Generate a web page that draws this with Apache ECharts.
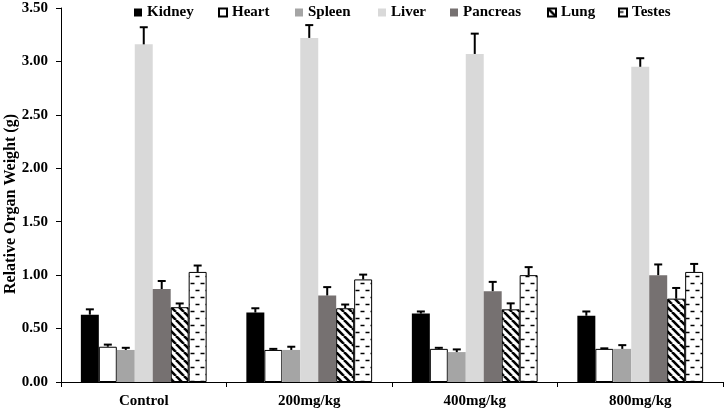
<!DOCTYPE html>
<html>
<head>
<meta charset="utf-8">
<title>Relative Organ Weight</title>
<script src="https://cdn.jsdelivr.net/npm/echarts@6/dist/echarts.min.js"></script>
<style>
    html, body { margin: 0; padding: 0; background: #fff; }
    #main { width: 725px; height: 410px; }
</style>
</head>
<body>
<div id="main"></div>
<script>
// data
const categories = ['Control', '200mg/kg', '400mg/kg', '800mg/kg'];
const organNames = ['Kidney', 'Heart', 'Spleen', 'Liver', 'Pancreas', 'Lung', 'Testes'];
const yTitle = 'Relative Organ Weight (g)';

const kidney = [0.63, 0.65, 0.64, 0.62];
const heart = [0.33, 0.30, 0.31, 0.31];
const spleen = [0.30, 0.30, 0.28, 0.31];
const liver = [3.16, 3.22, 3.07, 2.95];
const pancreas = [0.87, 0.81, 0.85, 1.00];
const lung = [0.70, 0.69, 0.68, 0.78];
const testes = [1.03, 0.96, 1.00, 1.03];

// standard error (upper bar only)
const kidneyErr = [0.05, 0.04, 0.02, 0.04];
const heartErr = [0.02, 0.01, 0.01, 0.005];
const spleenErr = [0.02, 0.03, 0.025, 0.035];
const liverErr = [0.16, 0.12, 0.19, 0.08];
const pancreasErr = [0.075, 0.078, 0.087, 0.10];
const lungErr = [0.035, 0.035, 0.056, 0.10];
const testesErr = [0.06, 0.045, 0.075, 0.075];

const yTicks = [0, 0.5, 1, 1.5, 2, 2.5, 3, 3.5];

const FONT = 'Liberation Serif';
const CAT_GAP = 0.24;

// diagonal stripes for Lung
function stripePattern() {
    const c = document.createElement('canvas');
    c.width = 8; c.height = 8;
    const ctx = c.getContext('2d');
    ctx.fillStyle = '#fff';
    ctx.fillRect(0, 0, 8, 8);
    ctx.strokeStyle = '#000';
    ctx.lineWidth = 2.6;
    [-8, 0, 8].forEach(function (o) {
        ctx.beginPath();
        ctx.moveTo(o, 0);
        ctx.lineTo(o + 8, 8);
        ctx.stroke();
    });
    return c;
}

// short dashes for Testes
function dashPattern() {
    const c = document.createElement('canvas');
    c.width = 10; c.height = 14;
    const ctx = c.getContext('2d');
    ctx.fillStyle = '#fff';
    ctx.fillRect(0, 0, 10, 14);
    ctx.strokeStyle = '#000';
    ctx.lineWidth = 1.4;
    ctx.beginPath();
    ctx.moveTo(0.5, 3.5); ctx.lineTo(4.5, 3.5);
    ctx.moveTo(5.5, 10.5); ctx.lineTo(9.5, 10.5);
    ctx.stroke();
    return c;
}

const values = [kidney, heart, spleen, liver, pancreas, lung, testes];
const errors = [kidneyErr, heartErr, spleenErr, liverErr, pancreasErr, lungErr, testesErr];
const styles = [
    {color: '#000000'},
    {color: '#ffffff', borderColor: '#000', borderWidth: 1},
    {color: '#a5a5a5'},
    {color: '#d9d9d9'},
    {color: '#767171'},
    {color: {image: stripePattern(), repeat: 'repeat'}, borderColor: '#000', borderWidth: 1},
    {color: {image: dashPattern(), repeat: 'repeat'}, borderColor: '#000', borderWidth: 1}
];
const legendLeft = [134, 218, 295, 378, 450, 547, 618];

function errorSeries(idx) {
    return {
        type: 'custom',
        name: organNames[idx] + ' SE',
        z: 5,
        silent: true,
        encode: {x: 0, y: 1},
        data: values[idx].map(function (v, i) { return [i, v, errors[idx][i]]; }),
        renderItem: function (params, api) {
            const base = api.coord([api.value(0), api.value(1)]);
            const top = api.coord([api.value(0), api.value(1) + api.value(2)]);
            const bw = api.size([1, 0])[0] * (1 - CAT_GAP) / organNames.length;
            const x = base[0] + (idx - 3) * bw;
            const st = {stroke: '#000', lineWidth: 2};
            return {
                type: 'group',
                children: [
                    {type: 'line', shape: {x1: x, y1: base[1], x2: x, y2: top[1]}, style: st},
                    {type: 'line', shape: {x1: x - 4, y1: top[1], x2: x + 4, y2: top[1]}, style: st}
                ]
            };
        }
    };
}

const myChart = echarts.init(document.getElementById('main'));

const barSeries = organNames.map(function (name, i) {
    return {
        name: name,
        type: 'bar',
        barGap: '0%',
        barCategoryGap: (CAT_GAP * 100) + '%',
        itemStyle: styles[i],
        data: values[i]
    };
});

const option = {
    backgroundColor: '#fff',
    animation: false,
    textStyle: {fontFamily: FONT},
    legend: organNames.map(function (name, i) {
        return {
            data: [name],
            left: legendLeft[i],
            top: 5,
            padding: 0,
            icon: 'rect',
            itemWidth: 8,
            itemHeight: 8,
            textStyle: {fontFamily: FONT, fontWeight: 'bold', fontSize: 15, color: '#000'}
        };
    }),
    // y axis title, a little below the axis middle as in the original
    graphic: [{
        type: 'text',
        x: 11,
        y: 204,
        rotation: Math.PI / 2,
        style: {
            text: yTitle,
            fill: '#000',
            font: 'bold 16px "Liberation Serif"',
            align: 'center',
            verticalAlign: 'middle'
        }
    }],
    grid: {left: 61, right: 2, top: 8, bottom: 28, outerBoundsMode: 'none'},
    xAxis: {
        type: 'category',
        data: categories,
        axisLine: {lineStyle: {color: '#000', width: 1}},
        axisTick: {show: true, length: 5, lineStyle: {color: '#000'}},
        axisLabel: {color: '#000', fontFamily: FONT, fontWeight: 'bold', fontSize: 15, margin: 12}
    },
    yAxis: {
        type: 'value',
        min: yTicks[0],
        max: yTicks[yTicks.length - 1],
        interval: 0.5,
        axisLine: {show: true, lineStyle: {color: '#000', width: 1}},
        axisTick: {show: true, length: 5, lineStyle: {color: '#000'}},
        splitLine: {show: false},
        axisLabel: {
            color: '#000', fontFamily: FONT, fontWeight: 'bold', fontSize: 15, margin: 13,
            formatter: function (v) { return v.toFixed(2); }
        }
    },
    series: barSeries.concat(organNames.map(function (n, i) { return errorSeries(i); }))
};

myChart.setOption(option);
</script>
</body>
</html>
